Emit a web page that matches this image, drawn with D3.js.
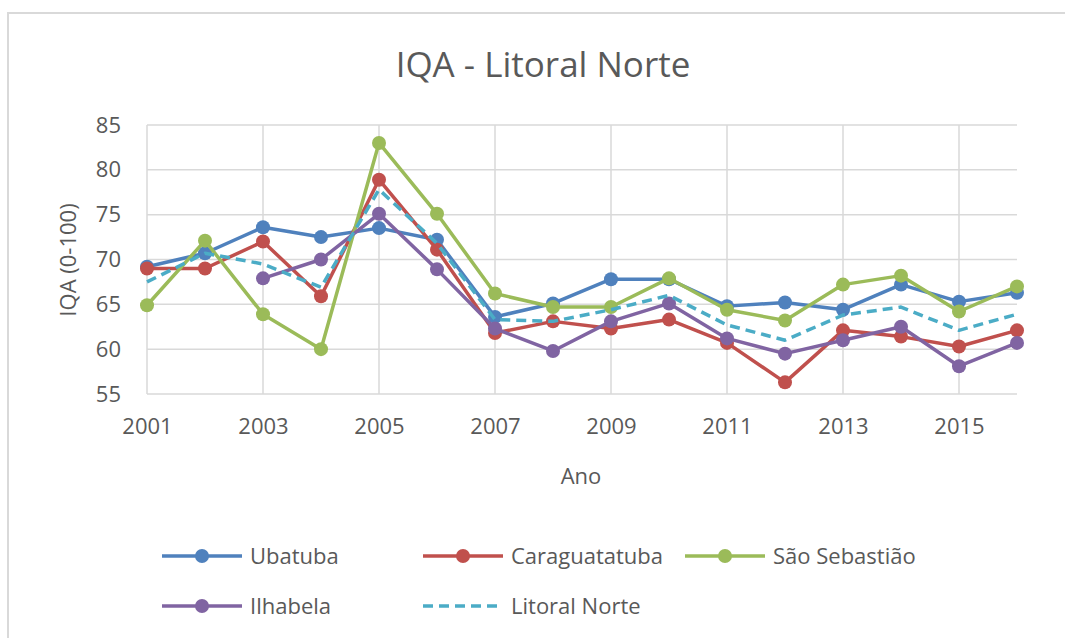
<!DOCTYPE html>
<html>
<head>
<meta charset="utf-8">
<script src="https://cdn.jsdelivr.net/npm/d3@7"></script>
<style>
  html, body { margin: 0; background: #fff; overflow: hidden; }
  svg { display: block; }
  text { font-family: "Open Sans", sans-serif; fill: #595959; }
</style>
</head>
<body>
<div id="container"></div>
<script>
const years = d3.range(2001, 2017)

const ubatuba = [69.2, 70.7, 73.6, 72.5, 73.5, 72.2, 63.6, 65.1, 67.8, 67.8, 64.8, 65.2, 64.4, 67.2, 65.3, 66.3]
const caraguatatuba = [69, 69, 72, 65.9, 78.9, 71.1, 61.8, 63.1, 62.3, 63.3, 60.7, 56.3, 62.1, 61.4, 60.3, 62.1]
const saoSebastiao = [64.9, 72.1, 63.9, 60, 83, 75.1, 66.2, 64.7, 64.7, 67.9, 64.4, 63.2, 67.2, 68.2, 64.2, 67]
const ilhabela = [null, null, 67.9, 70, 75.1, 68.9, 62.3, 59.8, 63.1, 65.1, 61.2, 59.5, 61, 62.5, 58.1, 60.7]
const litoralNorte = [67.5, 70.7, 69.5, 66.9, 77.8, 71.8, 63.3, 63.1, 64.4, 66, 62.7, 61, 63.8, 64.7, 62.1, 63.9]

const yTicks = [55, 60, 65, 70, 75, 80, 85]
const xTicks = [2001, 2003, 2005, 2007, 2009, 2011, 2013, 2015]

const series = [
  { name: 'Ubatuba', values: ubatuba, colour: '#4F81BD', dashed: false },
  { name: 'Caraguatatuba', values: caraguatatuba, colour: '#C0504D', dashed: false },
  { name: 'São Sebastião', values: saoSebastiao, colour: '#9BBB59', dashed: false },
  { name: 'Ilhabela', values: ilhabela, colour: '#8064A2', dashed: false },
  { name: 'Litoral Norte', values: litoralNorte, colour: '#4BACC6', dashed: true }
]

const w = 1065
const h = 638

const svg = d3.select('#container')
  .append('svg')
  .attr('width', w)
  .attr('height', h)

// chart frame
svg.append('rect')
  .attr('x', 8).attr('y', 13)
  .attr('width', w + 10).attr('height', h + 10)
  .attr('fill', 'none')
  .attr('stroke', '#d9d9d9')
  .attr('stroke-width', 2)

const x = d3.scaleLinear().domain([2001, 2016]).range([147, 1017])
const y = d3.scaleLinear().domain([55, 85]).range([394, 125])

// gridlines
svg.append('g')
  .selectAll('line')
  .data(yTicks)
  .enter()
  .append('line')
  .attr('x1', x(2001)).attr('x2', x(2016))
  .attr('y1', (d) => y(d)).attr('y2', (d) => y(d))
  .attr('stroke', '#d9d9d9')
  .attr('stroke-width', 1.5)

svg.append('g')
  .selectAll('line')
  .data(xTicks)
  .enter()
  .append('line')
  .attr('x1', (d) => x(d)).attr('x2', (d) => x(d))
  .attr('y1', y(55)).attr('y2', y(85))
  .attr('stroke', '#d9d9d9')
  .attr('stroke-width', 1.5)

// axes (labels only, Excel style)
const yAxis = svg.append('g')
  .attr('transform', 'translate(121,0)')
  .call(d3.axisLeft(y).tickValues(yTicks).tickSize(0).tickPadding(0))
yAxis.select('.domain').remove()
yAxis.selectAll('text')
  .style('font-size', '22px')
  .style('font-family', '"Open Sans", sans-serif')
  .attr('fill', '#595959')

const xAxis = svg.append('g')
  .attr('transform', 'translate(0,' + (y(55) + 24) + ')')
  .call(d3.axisBottom(x).tickValues(xTicks).tickFormat(d3.format('d')).tickSize(0).tickPadding(0))
xAxis.select('.domain').remove()
xAxis.selectAll('text')
  .style('font-size', '22px')
  .style('font-family', '"Open Sans", sans-serif')
  .attr('fill', '#595959')

// titles
svg.append('text')
  .attr('x', 543).attr('y', 77)
  .attr('text-anchor', 'middle')
  .style('font-size', '35px')
  .text('IQA - Litoral Norte')

svg.append('text')
  .attr('x', 581).attr('y', 484)
  .attr('text-anchor', 'middle')
  .style('font-size', '22px')
  .text('Ano')

svg.append('text')
  .attr('transform', 'translate(76,260) rotate(-90)')
  .attr('text-anchor', 'middle')
  .style('font-size', '22px')
  .text('IQA (0-100)')

// lines
const line = d3.line()
  .defined((d) => d !== null)
  .x((d, i) => x(years[i]))
  .y((d) => y(d))

series.forEach((s) => {
  svg.append('path')
    .datum(s.values)
    .attr('d', line)
    .attr('fill', 'none')
    .attr('stroke', s.colour)
    .attr('stroke-width', 3.5)
    .attr('stroke-linejoin', 'round')
    .attr('stroke-dasharray', s.dashed ? '10,6' : null)

  if (!s.dashed) {
    svg.append('g')
      .selectAll('circle')
      .data(s.values.map((v, i) => ({ year: years[i], value: v })).filter((d) => d.value !== null))
      .enter()
      .append('circle')
      .attr('cx', (d) => x(d.year))
      .attr('cy', (d) => y(d.value))
      .attr('r', 7)
      .attr('fill', s.colour)
  }
})

// legend
const legendPos = [
  { lx: 162, ly: 556 },
  { lx: 423, ly: 556 },
  { lx: 685, ly: 556 },
  { lx: 162, ly: 606 },
  { lx: 423, ly: 606 }
]

series.forEach((s, i) => {
  const p = legendPos[i]
  const g = svg.append('g').attr('transform', 'translate(' + p.lx + ',' + p.ly + ')')
  g.append('line')
    .attr('x1', 0).attr('x2', 80)
    .attr('y1', 0).attr('y2', 0)
    .attr('stroke', s.colour)
    .attr('stroke-width', 3.5)
    .attr('stroke-dasharray', s.dashed ? '10,6' : null)
  if (!s.dashed) {
    g.append('circle').attr('cx', 40).attr('cy', 0).attr('r', 7).attr('fill', s.colour)
  }
  g.append('text')
    .attr('x', 88).attr('y', 8)
    .style('font-size', '22px')
    .text(s.name)
})
</script>
</body>
</html>
